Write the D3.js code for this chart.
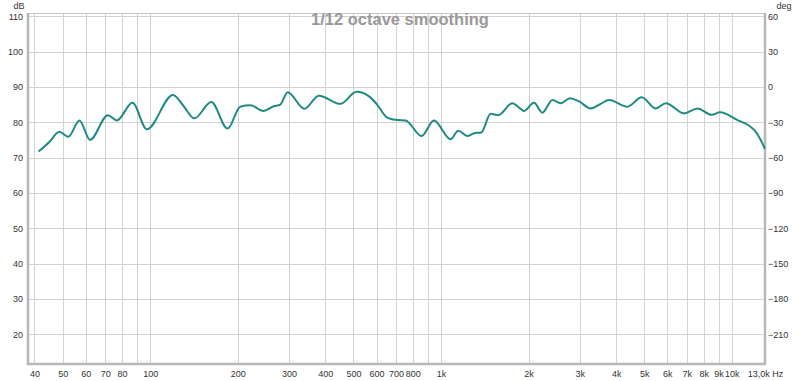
<!DOCTYPE html>
<html>
<head>
<meta charset="utf-8">
<script src="https://cdn.jsdelivr.net/npm/d3@7"></script>
<style>
  body { margin: 0; background: #fff; }
  text { font-family: "Liberation Sans", Arial, sans-serif; }
</style>
</head>
<body>
<div id="chart"></div>
<script>
//************************************************************************
// data (frequency in Hz, level in dB)
//************************************************************************
var freqs = [41.3, 45, 48.7, 52.3, 57.1, 62.1, 71.5, 76.8, 86.9, 97.4,
  119.7, 130.2, 141.8, 162.2, 184.5, 204, 221, 245, 266, 280,
  297, 339, 380, 451, 512, 564, 600, 653, 706, 755,
  857, 945, 1078, 1146, 1230, 1300, 1375, 1481, 1573, 1759,
  1878, 1928, 2087, 2231, 2415, 2578, 2776, 2982, 3270, 3540,
  3782, 4375, 4900, 5475, 5928, 6851, 7620, 8513, 9112, 10462,
  11470, 12000, 12500, 12990];
var levels = [71.7, 74.4, 77.3, 75.9, 80.5, 75.0, 82.0, 80.5, 85.5, 78.0,
  87.7, 84.6, 81.1, 85.7, 78.2, 84.4, 84.8, 83.2, 84.5, 85.0,
  88.5, 83.8, 87.5, 85.2, 88.6, 87.4, 85.2, 81.3, 80.6, 80.5,
  76.1, 80.5, 75.2, 77.6, 76.1, 76.9, 77.1, 82.4, 82.0, 85.4,
  83.8, 83.2, 85.5, 82.7, 86.3, 85.4, 86.8, 85.9, 83.9, 85.2,
  86.3, 84.4, 87.1, 83.9, 85.4, 82.5, 83.9, 82.1, 82.8, 80.6,
  79.0, 77.6, 75.3, 72.5];

var gridFreqs = [40, 50, 60, 70, 80, 90, 100, 200, 300, 400, 500, 600, 700, 800, 900,
  1000, 2000, 3000, 4000, 5000, 6000, 7000, 8000, 9000, 10000];
var labelFreqs = [40, 50, 60, 70, 80, 100, 200, 300, 400, 500, 600, 700, 800,
  1000, 2000, 3000, 4000, 5000, 6000, 7000, 8000, 9000, 10000, 13000];
var labelTexts = ["40", "50", "60", "70", "80", "100", "200", "300", "400", "500", "600", "700", "800",
  "1k", "2k", "3k", "4k", "5k", "6k", "7k", "8k", "9k", "10k", "13,0k Hz"];
var dbTicks = [20, 30, 40, 50, 60, 70, 80, 90, 100, 110];
var degTicks = [-210, -180, -150, -120, -90, -60, -30, 0, 30, 60];

//************************************************************************
// display settings
//************************************************************************
var svgWidth = 800;
var svgHeight = 381;

var plot = { left: 28, right: 765, top: 13, bottom: 364 };

var svg = d3.select("#chart")
  .append("svg")
  .attr("width", svgWidth)
  .attr("height", svgHeight);

//************************************************************************
// scales
//************************************************************************
var xScale = d3.scaleLog()
  .domain([38, 13000])
  .range([plot.left, plot.right]);

var yScale = d3.scaleLinear()
  .domain([11.6, 110.9])
  .range([plot.bottom, plot.top]);

var degScale = d3.scaleLinear()
  .domain([(11.6 - 90) * 3, (110.9 - 90) * 3])
  .range([plot.bottom, plot.top]);

//************************************************************************
// grid
//************************************************************************
var grid = svg.append("g");

grid.selectAll(".vgrid")
  .data(gridFreqs)
  .enter().append("line")
  .attr("x1", d => Math.round(xScale(d)) + 0.5)
  .attr("x2", d => Math.round(xScale(d)) + 0.5)
  .attr("y1", plot.top)
  .attr("y2", plot.bottom)
  .attr("stroke", "#d2d2d2")
  .attr("stroke-width", 1);

grid.selectAll(".hgrid")
  .data(dbTicks)
  .enter().append("line")
  .attr("x1", plot.left)
  .attr("x2", plot.right)
  .attr("y1", d => Math.round(yScale(d)) + 0.5)
  .attr("y2", d => Math.round(yScale(d)) + 0.5)
  .attr("stroke", "#d2d2d2")
  .attr("stroke-width", 1);

//************************************************************************
// frame
//************************************************************************
svg.append("rect")
  .attr("x", plot.left + 0.5)
  .attr("y", plot.top + 0.5)
  .attr("width", plot.right - plot.left)
  .attr("height", plot.bottom - plot.top)
  .attr("fill", "none")
  .attr("stroke", "#c4c4c4")
  .attr("stroke-width", 1);

// heavier edges left, right and bottom
svg.append("path")
  .attr("d", `M${plot.left},${plot.top} V${plot.bottom} H${plot.right} V${plot.top}`)
  .attr("fill", "none")
  .attr("stroke", "#b8b8b8")
  .attr("stroke-width", 2.5);

//************************************************************************
// axes
//************************************************************************
var bottomAxis = d3.axisBottom(xScale)
  .tickValues(labelFreqs)
  .tickFormat((d, i) => labelTexts[i])
  .tickSize(0)
  .tickPadding(7);

var leftAxis = d3.axisLeft(yScale)
  .tickValues(dbTicks)
  .tickSize(0)
  .tickPadding(4);

var rightAxis = d3.axisRight(degScale)
  .tickValues(degTicks)
  .tickSize(0)
  .tickPadding(3);

var xAxis = svg.append("g")
  .attr("transform", `translate(0, ${plot.bottom})`)
  .call(bottomAxis);

var yAxis = svg.append("g")
  .attr("transform", `translate(${plot.left - 1}, 0)`)
  .call(leftAxis);

var degAxis = svg.append("g")
  .attr("transform", `translate(${plot.right}, 0)`)
  .call(rightAxis);

[xAxis, yAxis, degAxis].forEach(a => {
  a.select(".domain").remove();
  a.selectAll("text")
    .attr("fill", "#333")
    .style("font-size", "9px")
    .style("font-family", "'Liberation Sans', Arial, sans-serif");
});

// unit labels
svg.append("text")
  .attr("x", 19)
  .attr("y", 9)
  .attr("text-anchor", "middle")
  .attr("fill", "#333")
  .style("font-size", "9px")
  .text("dB");

svg.append("text")
  .attr("x", 784)
  .attr("y", 9)
  .attr("text-anchor", "middle")
  .attr("fill", "#333")
  .style("font-size", "9px")
  .text("deg");

// title
svg.append("text")
  .attr("x", 400)
  .attr("y", 25)
  .attr("text-anchor", "middle")
  .attr("fill", "#999")
  .style("font-size", "16.5px")
  .style("font-weight", "bold")
  .text("1/12 octave smoothing");

//************************************************************************
// response curve
//************************************************************************
var points = freqs.map((f, i) => ({ f: f, db: levels[i] }));

var line = d3.line()
  .x(d => xScale(d.f))
  .y(d => yScale(d.db))
  .curve(d3.curveMonotoneX);

svg.append("path")
  .datum(points)
  .attr("d", line)
  .attr("fill", "none")
  .attr("stroke", "#1f8a84")
  .attr("stroke-width", 2)
  .attr("stroke-linejoin", "round");
</script>
</body>
</html>
